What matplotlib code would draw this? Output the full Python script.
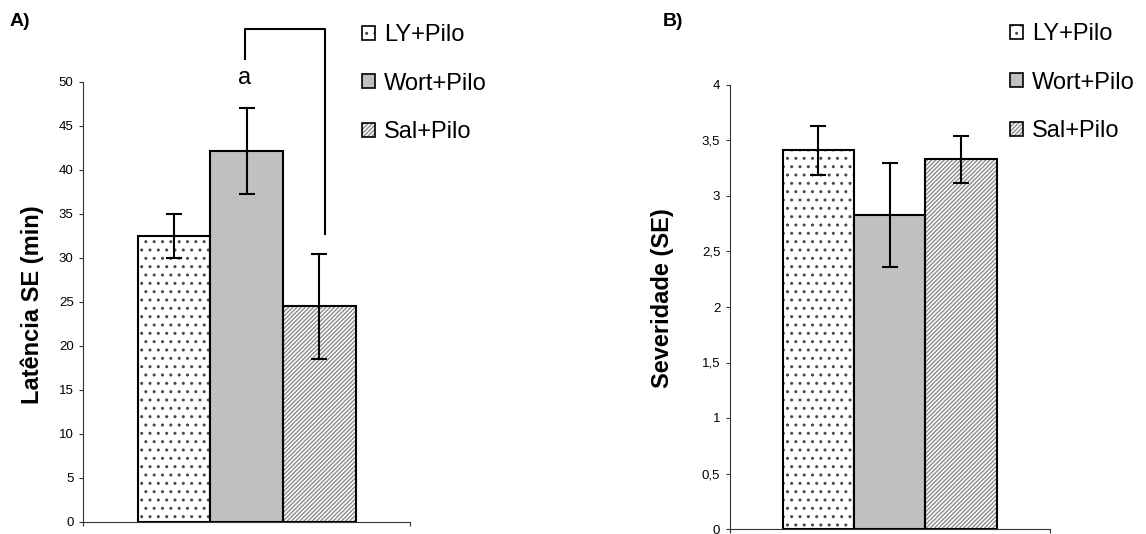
import matplotlib
matplotlib.use("Agg")
import matplotlib.pyplot as plt
from matplotlib.patches import Patch

plt.rcParams["font.family"] = ["Liberation Sans", "DejaVu Sans"]
plt.rcParams["hatch.linewidth"] = 1.0

# ── Data ─────────────────────────────────────────────────────────────────────
groups = ["LY+Pilo", "Wort+Pilo", "Sal+Pilo"]

latency_mean = [32.5, 42.2, 24.5]
latency_err = [2.5, 4.9, 5.95]

severity_mean = [3.41, 2.83, 3.33]
severity_err = [0.22, 0.47, 0.215]

latency_ticks = [0, 5, 10, 15, 20, 25, 30, 35, 40, 45, 50]
severity_ticks = [0, 0.5, 1, 1.5, 2, 2.5, 3, 3.5, 4]
severity_ticklabels = ["0", "0,5", "1", "1,5", "2", "2,5", "3", "3,5", "4"]

# ── Styles ───────────────────────────────────────────────────────────────────
AXIS_COL = "#333333"
styles = [
    dict(facecolor="white", hatch="..", hatchcol="#4a4a4a"),
    dict(facecolor="#c0c0c0", hatch=None, hatchcol=None),
    dict(facecolor="white", hatch="////////", hatchcol="#8c8c8c"),
]

W, H = 1146, 534
fig = plt.figure(figsize=(W / 100, H / 100), dpi=100)
axA = fig.add_axes([83.3 / W, 12 / H, 327 / W, 440 / H])
axB = fig.add_axes([730 / W, 5 / H, 320 / W, 444 / H])


def draw_bars(ax, means, errs):
    x = range(len(means))
    for i, (m, st) in enumerate(zip(means, styles)):
        if st["hatch"]:
            ax.bar(i, m, width=1.0, color=st["facecolor"], hatch=st["hatch"],
                   edgecolor=st["hatchcol"], linewidth=0, zorder=2)
            ax.bar(i, m, width=1.0, fill=False, edgecolor="black",
                   linewidth=1.5, zorder=3)
        else:
            ax.bar(i, m, width=1.0, color=st["facecolor"], edgecolor="black",
                   linewidth=1.5, zorder=3)
    ax.errorbar(list(x), means, yerr=errs, fmt="none", ecolor="black",
                elinewidth=1.5, capsize=5.6, capthick=1.5, zorder=4)


def style_axis(ax, xlim, ylim, ticks, ticklabels):
    ax.set_xlim(*xlim)
    ax.set_ylim(*ylim)
    for s in ["top", "right"]:
        ax.spines[s].set_visible(False)
    for s in ["left", "bottom"]:
        ax.spines[s].set_color(AXIS_COL)
        ax.spines[s].set_linewidth(0.8)
    ax.set_yticks(ticks)
    ax.set_yticklabels(ticklabels)
    ax.set_xticks(list(xlim))
    ax.set_xticklabels(["", ""])
    ax.tick_params(axis="both", direction="out", length=3, width=0.8,
                   color=AXIS_COL, labelsize=9.5, pad=4)
    ax.set_facecolor("none")


# Panel A
draw_bars(axA, latency_mean, latency_err)
style_axis(axA, (-1.25, 3.25), (0, 50), latency_ticks,
           [str(t) for t in latency_ticks])
axA.set_ylabel("Latência SE (min)", fontsize=17, fontweight="bold", va="center")
axA.yaxis.set_label_coords(-0.155, 0.495)

# significance bracket between Wort and Sal
axA.plot([0.97, 0.97, 2.07, 2.07], [52.6, 56.0, 56.0, 32.75], color="black",
         linewidth=1.5, clip_on=False, zorder=5)
axA.text(0.97, 50.5, "a", fontsize=17, ha="center", va="center")

# Panel B
draw_bars(axB, severity_mean, severity_err)
style_axis(axB, (-1.24, 3.25), (0, 4), severity_ticks, severity_ticklabels)
axB.set_ylabel("Severidade (SE)", fontsize=17, fontweight="bold", va="center")
axB.yaxis.set_label_coords(-0.211, 0.52)

fig.text(10 / W, 1 - 22 / H, "A)", fontsize=14, fontweight="bold", va="center")
fig.text(663 / W, 1 - 22 / H, "B)", fontsize=14, fontweight="bold", va="center")

# ── Legends ──────────────────────────────────────────────────────────────────
def legend_handles():
    hs = []
    for st in styles:
        if st["hatch"]:
            hs.append((Patch(facecolor=st["facecolor"], hatch=st["hatch"],
                             edgecolor=st["hatchcol"], linewidth=0),
                       Patch(fill=False, edgecolor="black", linewidth=1.2)))
        else:
            hs.append(Patch(facecolor=st["facecolor"], edgecolor="black",
                            linewidth=1.2))
    return hs


for xl, top in [(362 / W, 24), (1010 / W, 23)]:
    fig.legend(legend_handles(), groups, loc="upper left",
               bbox_to_anchor=(xl, 1 - top / H), frameon=False, fontsize=17,
               handlelength=0.55, handleheight=0.55, handletextpad=0.38,
               labelspacing=1.13, borderpad=0, borderaxespad=0)

fig.savefig("out.png", dpi=100)
